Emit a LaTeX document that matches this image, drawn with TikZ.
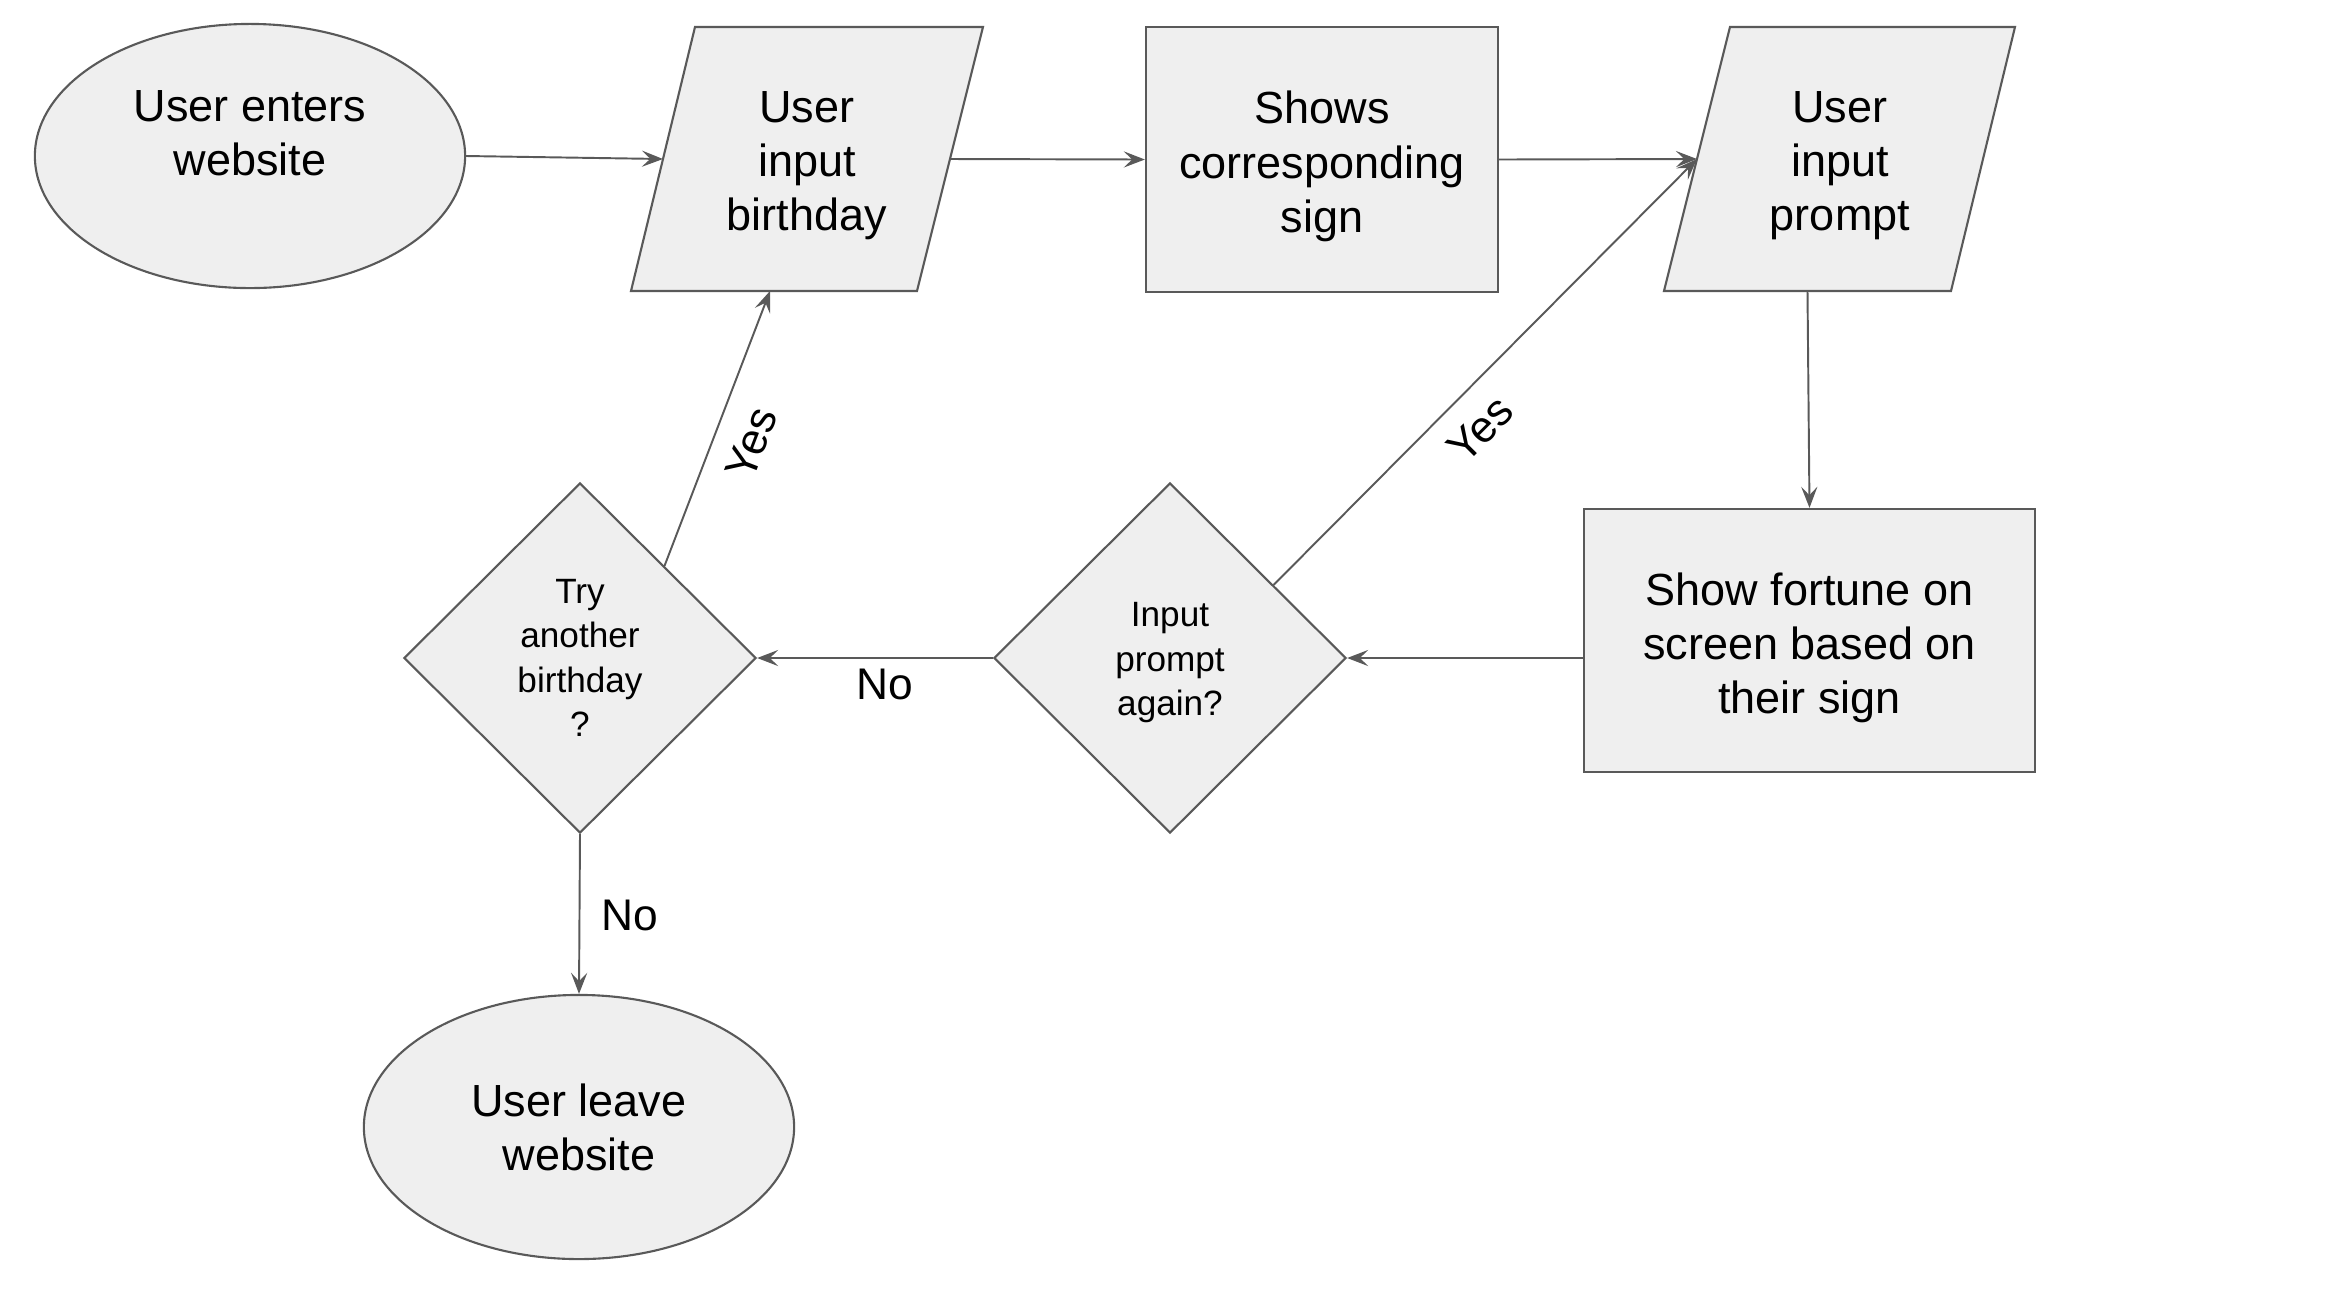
\documentclass[tikz,border=0pt]{standalone}
\usepackage{fontspec}
\setmainfont{Liberation Sans}
\usetikzlibrary{shapes.geometric,arrows.meta,calc}
\definecolor{shapefill}{HTML}{EFEFEF}
\definecolor{edgegray}{HTML}{595959}
\newcommand{\tallfirst}[1]{\rule{0pt}{#1}}
\begin{document}
\begin{tikzpicture}[x=0.01cm,y=-0.01cm,
  shapebox/.style={draw=edgegray, fill=shapefill, line width=0.6pt},
  maintext/.style={font=\fontsize{12.8}{15.4}\selectfont, align=center, text=black},
  smalltext/.style={font=\fontsize{10}{12.6}\selectfont, align=center, text=black},
  labeltext/.style={font=\fontsize{12.6}{15}\selectfont, text=black, inner sep=0pt},
  startend/.style={shapebox, maintext, ellipse, minimum width=4.3cm, minimum height=2.64cm, inner sep=0pt},
  procbox/.style={shapebox, maintext, rectangle, inner sep=0pt},
  decision/.style={shapebox, smalltext, diamond, aspect=1, minimum width=3.52cm, minimum height=3.5cm, inner sep=0pt},
  arrow/.style={draw=edgegray, line width=0.55pt, -{Stealth[length=6pt,width=4.6pt,inset=2.4pt]}}
]
\useasboundingbox (0,0) rectangle (2332,1305);

% start ellipse
\node[startend] (start) at (250,156) {\tallfirst{11pt}User enters\\website\\\mbox{}};

% parallelogram 1
\coordinate (p1tl) at (695,27);
\coordinate (p1tr) at (983,27);
\coordinate (p1br) at (917,291);
\coordinate (p1bl) at (631,291);
\draw[shapebox] (p1tl) -- (p1tr) -- (p1br) -- (p1bl) -- cycle;
\node[maintext] (p1) at (807,166) {User\\input\\birthday};
\coordinate (p1in) at ($(p1tl)!0.5!(p1bl)$);
\coordinate (p1out) at ($(p1tr)!0.5!(p1br)$);
\coordinate (p1bot) at (770,291);

% rectangle sign
\node[procbox, minimum width=3.52cm, minimum height=2.65cm] (sign) at (1322,159.5) {\tallfirst{13.2pt}Shows\\corresponding\\sign};

% parallelogram 2
\coordinate (p2tl) at (1730,27);
\coordinate (p2tr) at (2015,27);
\coordinate (p2br) at (1951,291);
\coordinate (p2bl) at (1664,291);
\draw[shapebox] (p2tl) -- (p2tr) -- (p2br) -- (p2bl) -- cycle;
\node[maintext] (p2) at (1840,166) {User\\input\\prompt};
\coordinate (p2in) at ($(p2tl)!0.5!(p2bl)$);
\coordinate (p2bot) at ($(p2bl)!0.5!(p2br)$);

% fortune rectangle
\node[procbox, minimum width=4.51cm, minimum height=2.63cm] (fortune) at (1809.5,640.5) {\tallfirst{13.4pt}Show fortune on\\screen based on\\their sign};

% diamonds
\node[decision] (d2) at (1170,658) {\tallfirst{9.6pt}Input\\prompt\\again?};
\node[decision] (d1) at (580,658) {Try\\another\\birthday\\?};

% end ellipse
\node[startend] (end) at (579,1127) {User leave\\website};

% connectors
\draw[arrow] (start.east) -- (p1in);
\draw[arrow] (p1out) -- (sign.west);
\draw[arrow] (sign.east) -- (p2in);
\draw[arrow] (p2bot) -- (fortune.north);
\draw[arrow] (fortune.west |- d2.east) -- (d2.east);
\draw[arrow] (d2.west) -- (d1.east);
\draw[arrow] ($(d2.north)!0.585!(d2.east)$) -- (p2in);
\draw[arrow] ($(d1.north)!0.477!(d1.east)$) -- (p1bot);
\draw[arrow] (d1.south) -- (end.north);

% labels
\node[labeltext] (noa) at (885,684) {No};
\node[labeltext] (nob) at (630,915) {No};
\node[labeltext, rotate=69] (yesa) at (751,443) {Yes};
\node[labeltext, rotate=45] (yesb) at (1480,429) {Yes};
\end{tikzpicture}
\end{document}
